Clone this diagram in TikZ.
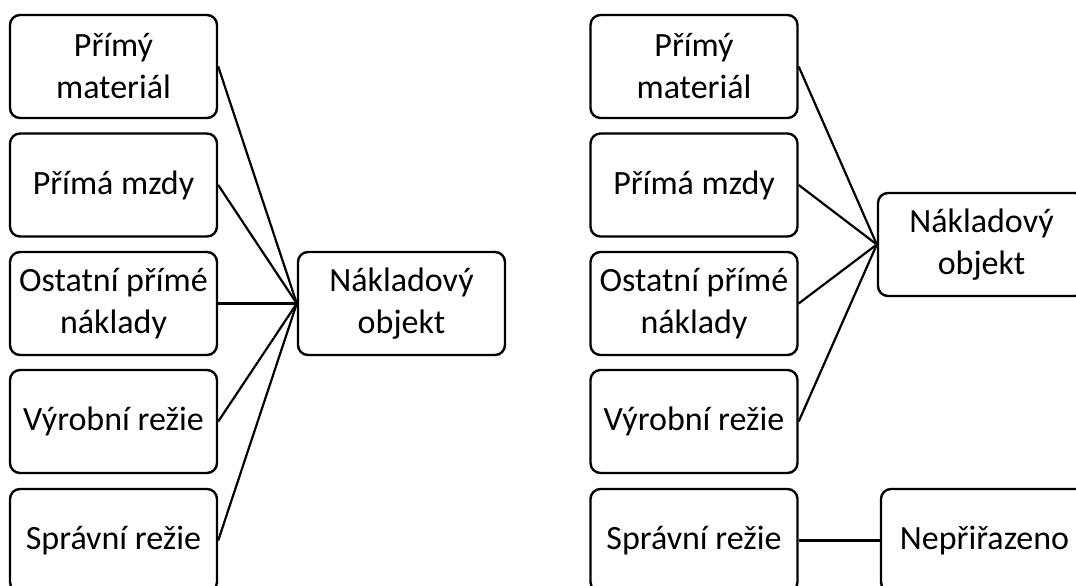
\documentclass[tikz,border=0pt]{standalone}
\usepackage{fontspec}
\setmainfont{Carlito}
\begin{document}
\begin{tikzpicture}[x=1pt,y=-1pt,
  box/.style={draw, line width=2.4pt, rounded corners=10pt, minimum width=207pt,
    minimum height=103pt, inner sep=0pt, align=center,
    font=\fontsize{34}{42}\selectfont},
  link/.style={line width=2.2pt}]
\useasboundingbox (0,0) rectangle (1076,586);
\clip (0,0) rectangle (1076,586);
% left diagram: every cost item assigned to the cost object
\node[box] (a1) at (113.5,66.5) {Přímý\\materiál};
\node[box] (a2) at (113.5,185) {Přímá mzdy};
\node[box] (a3) at (113.5,303.5) {Ostatní přímé\\náklady};
\node[box] (a4) at (113.5,421.5) {Výrobní režie};
\node[box] (a5) at (113.5,540.5) {Správní režie};
\node[box] (ao) at (401.5,303.5) {Nákladový\\objekt};
\foreach \i in {1,...,5} \draw[link] (a\i.east) -- (ao.west);
% right diagram: administrative overhead stays unassigned
\node[box] (b1) at (694,66.5) {Přímý\\materiál};
\node[box] (b2) at (694,185) {Přímá mzdy};
\node[box] (b3) at (694,303.5) {Ostatní přímé\\náklady};
\node[box] (b4) at (694,421.5) {Výrobní režie};
\node[box] (b5) at (694,540.5) {Správní režie};
\node[box] (bo) at (981.5,244.5) {Nákladový\\objekt};
\node[box] (bn) at (984.5,540.5) {Nepřiřazeno};
\foreach \i in {1,...,4} \draw[link] (b\i.east) -- (bo.west);
\draw[link] (b5.east) -- (bn.west);
\end{tikzpicture}
\end{document}
